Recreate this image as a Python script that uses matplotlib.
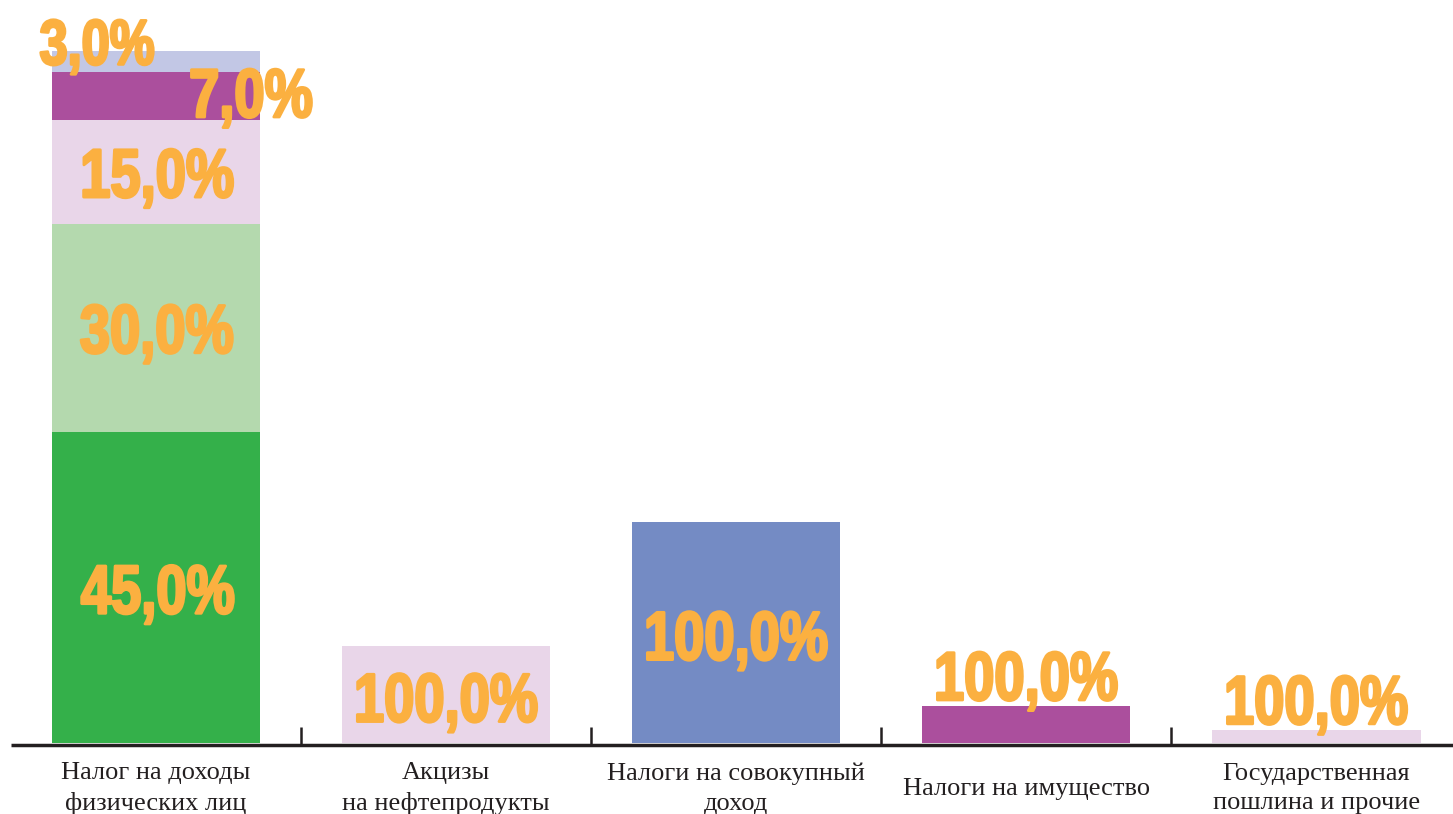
import matplotlib
matplotlib.use("Agg")
import matplotlib.pyplot as plt
import matplotlib.patheffects as pe
from matplotlib.transforms import Affine2D, offset_copy

# Данные
categories = ["Налог на доходы\nфизических лиц", "Акцизы\nна нефтепродукты",
              "Налоги на совокупный\nдоход", "Налоги на имущество",
              "Государственная\nпошлина и прочие"]
# относительная величина столбцов (первый = 100)
totals = [100, 14.0, 31.9, 5.35, 1.9]
# структура первого столбца, %
ndfl_shares = [45.0, 30.0, 15.0, 7.0, 3.0]
ndfl_colors = ["#34b04a", "#b4d9ae", "#e9d6e9", "#ab4f9d", "#c2c7e5"]
other_colors = ["#e9d6e9", "#748bc4", "#ab4f9d", "#e9d6e9"]
other_labels = ["100,0%", "100,0%", "100,0%", "100,0%"]

orange = "#fbb040"
dark = "#231f20"


class Squeeze(pe.AbstractPathEffect):
    """Сжимает текст по горизонтали (узкий жирный шрифт) и чуть утолщает."""

    def __init__(self, sx=0.79, lw=2.0):
        super().__init__()
        self.sx = sx
        self.lw = lw

    def draw_path(self, renderer, gc, tpath, affine, rgbFace=None):
        ext = tpath.get_extents(affine)
        cx = (ext.x0 + ext.x1) / 2
        aff = affine + Affine2D().translate(-cx, 0).scale(self.sx, 1).translate(cx, 0)
        gc0 = renderer.new_gc()
        gc0.copy_properties(gc)
        gc0.set_linewidth(self.lw)
        gc0.set_foreground(rgbFace)
        gc0.set_joinstyle("round")
        renderer.draw_path(gc0, tpath, aff, rgbFace)
        gc0.restore()


fig = plt.figure(figsize=(14.53, 8.14), dpi=100)
ax = fig.add_axes([0, 0, 1, 1])
ax.set_xlim(-0.538, 4.472)
ax.set_ylim(-10.26, 107.37)
ax.axis("off")


def big_label(x, y, s, dx=0, dy=0, size=49.5):
    # (x, y) — центр цифр; dx, dy — сдвиг в пикселях (dy вверх)
    tr = offset_copy(ax.transData, fig=fig, x=dx, y=dy - 25, units="dots")
    ax.text(x, y, s, transform=tr, ha="center", va="baseline", fontsize=size,
            family="Liberation Sans", weight="bold", color=orange,
            path_effects=[Squeeze()], zorder=4)


w = 0.72
# первый столбец — с накоплением
bottom = 0
seg_mid = []
for share, col in zip(ndfl_shares, ndfl_colors):
    h = totals[0] * share / 100
    ax.bar(0, h, w, bottom=bottom, color=col, zorder=2)
    seg_mid.append(bottom + h / 2)
    bottom += h

# сдвиги подписей, px
offsets = [(2, -1), (1, 0), (1, 0), (95, 4), (-59, 22)]
for share, mid, (dx, dy) in zip(ndfl_shares, seg_mid, offsets):
    big_label(0, mid, f"{share:.1f}%".replace(".", ","), dx=dx, dy=dy,
              size=46 if share < 5 else 49.5)

# остальные столбцы
for i, (val, col, lab) in enumerate(zip(totals[1:], other_colors, other_labels), start=1):
    ax.bar(i, val, w, color=col, zorder=2)
    if val > 10:
        big_label(i, val / 2, lab, dy=-2)
    else:
        big_label(i, val, lab, dy=31)

# ось
ax.hlines(-0.25, -0.5, 4.5, color=dark, lw=2.5, zorder=1)
for xt in [0.5, 1.5, 2.5, 3.5]:
    ax.vlines(xt, -0.25, 2.3, color=dark, lw=1.8, zorder=1)

for i, cat in enumerate(categories):
    ax.text(i, -6.6, cat, ha="center", va="center", fontsize=19, family="Liberation Serif",
            color=dark, linespacing=1.44)

fig.savefig("out.png", dpi=100)
